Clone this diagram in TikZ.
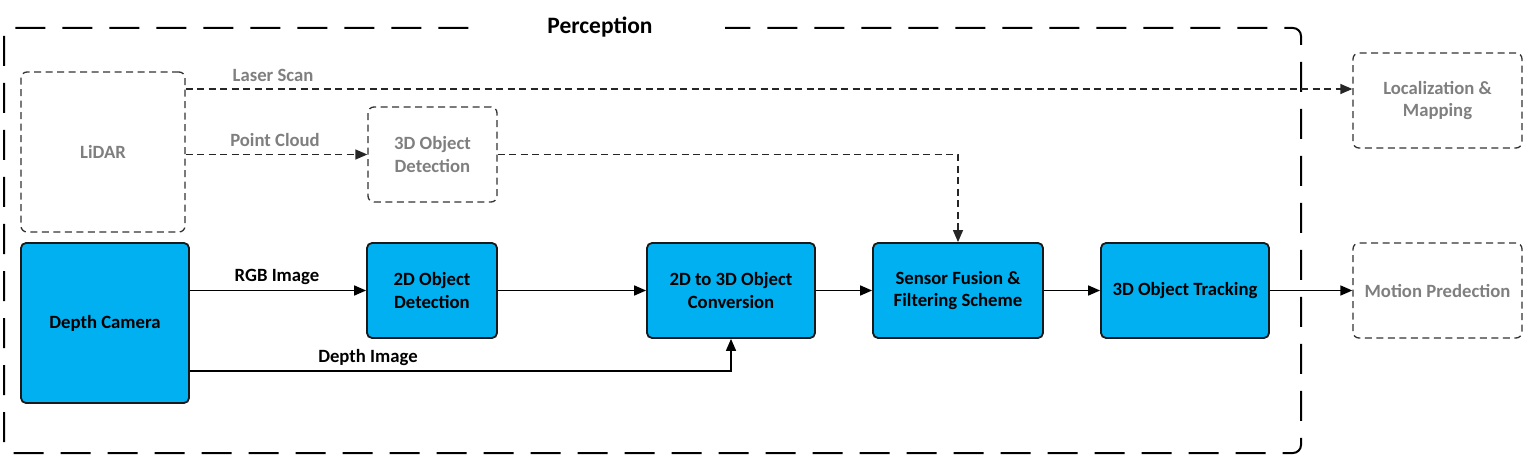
\documentclass[tikz,border=0pt]{standalone}
\usepackage{fontspec}
\setmainfont{Carlito}
\usepackage{xcolor}
\usetikzlibrary{positioning,arrows.meta}

\definecolor{boxblue}{HTML}{00B0F0}
\definecolor{txtgray}{HTML}{7F7F7F}

\begin{document}
\begin{tikzpicture}[x=1pt, y=-1pt,
    font=\fontsize{18.7}{22.4}\selectfont\bfseries,
    block/.style={draw=black!90, line width=1.8pt, fill=boxblue, rounded corners=5pt, align=center, inner sep=0pt},
    ghost/.style={draw=black!80, line width=1.3pt, dash pattern=on 7pt off 4.5pt, rounded corners=6pt, text=txtgray, align=center, inner sep=0pt},
    link/.style={line width=1.6pt, -{Triangle[length=12pt,width=10pt]}},
    dlink/.style={link, line width=1.3pt, dash pattern=on 7pt off 4.5pt, draw=black!85}]

    \useasboundingbox (0,0) rectangle (1526,457);

    % perception frame
    \draw[line width=2pt, dash pattern=on 30pt off 17pt, rounded corners=8pt] (4,28) rectangle (1301,453);
    \node[fill=white, minimum width=250, inner ysep=2pt, font=\fontsize{23.5}{28}\selectfont\bfseries] (title) at (600,27) {Perception};

    \node[ghost, minimum width=164, minimum height=160] (lidar) at (103,152) {LiDAR};
    \node[ghost, minimum width=129, minimum height=95] (det3d) at (432.5,154.5) {3D Object\\Detection};
    \node[ghost, minimum width=169, minimum height=95] (loc) at (1437.5,100.5) {Localization \&\\Mapping};
    \node[ghost, minimum width=169, minimum height=95] (motion) at (1437.5,290.5) {Motion Predection};

    \node[block, minimum width=168, minimum height=160] (cam) at (105,323) {Depth Camera};
    \node[block, minimum width=130, minimum height=95] (det2d) at (432,290.5) {2D Object\\Detection};
    \node[block, minimum width=168, minimum height=95] (conv) at (731,290.5) {2D to 3D Object\\Conversion};
    \node[block, minimum width=170, minimum height=95] (fusion) at (958,290.5) {Sensor Fusion \&\\Filtering Scheme};
    \node[block, minimum width=168, minimum height=95] (track) at (1185,290.5) {3D Object Tracking};

    % lidar branch
    \draw[dlink] ([yshift=63pt]lidar.east) coordinate (scan) -- (scan -| loc.west);
    \draw[dlink] (lidar.east |- det3d.west) -- (det3d.west);
    \draw[dlink] (det3d.east) -| (fusion.north);
    \node[text=txtgray] (lscan) at (273,75) {Laser Scan};
    \node[text=txtgray] (pcloud) at (275,140) {Point Cloud};

    % camera branch
    \draw[link] (cam.east |- det2d.west) -- (det2d.west);
    \draw[link] ([yshift=-48pt]cam.east) -| (conv.south);
    \node (rgb) at (277,277) {RGB Image};
    \node (depth) at (368,358) {Depth Image};

    \draw[link] (det2d) -- (conv);
    \draw[link] (conv) -- (fusion);
    \draw[link] (fusion) -- (track);
    \draw[link] (track) -- (motion);

\end{tikzpicture}
\end{document}
